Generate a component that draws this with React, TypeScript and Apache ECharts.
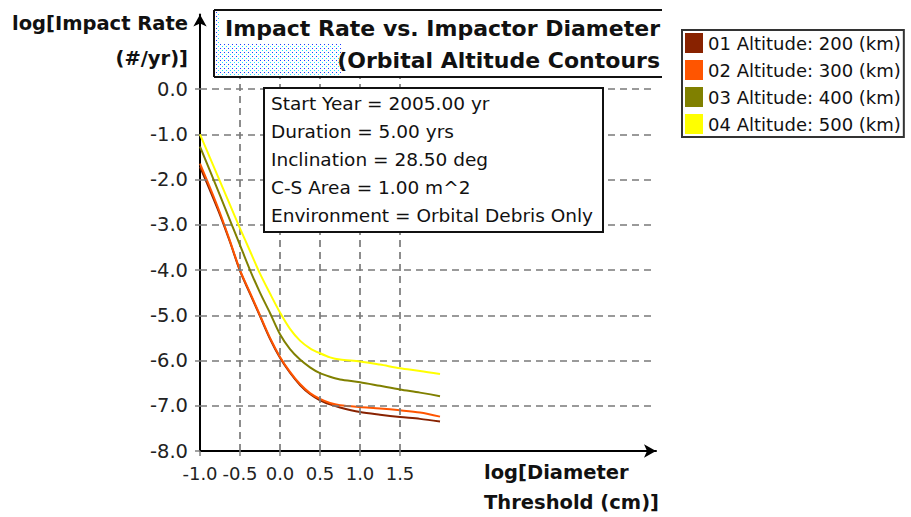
import React, { useEffect, useRef } from "react";
import * as echarts from "echarts";

// log[Diameter Threshold (cm)] sample positions
const xValues = [-1.0, -0.875, -0.75, -0.625, -0.5, -0.375, -0.25, -0.125, 0, 0.125, 0.25, 0.375, 0.5, 0.625, 0.75, 1.0, 1.25, 1.5, 1.75, 2.0];

// log[Impact Rate (#/yr)] per altitude
const alt200 = [-1.72, -2.24, -2.78, -3.38, -4.02, -4.52, -5.02, -5.52, -5.94, -6.27, -6.54, -6.74, -6.88, -6.97, -7.04, -7.14, -7.2, -7.25, -7.29, -7.35];
const alt300 = [-1.65, -2.18, -2.74, -3.36, -4.0, -4.5, -5.0, -5.5, -5.92, -6.25, -6.52, -6.72, -6.85, -6.94, -6.99, -7.03, -7.06, -7.1, -7.15, -7.24];
const alt400 = [-1.27, -1.81, -2.35, -2.9, -3.45, -4.0, -4.5, -4.95, -5.42, -5.75, -5.98, -6.15, -6.28, -6.36, -6.42, -6.48, -6.56, -6.64, -6.71, -6.79];
const alt500 = [-1.0, -1.52, -2.04, -2.56, -3.08, -3.58, -4.08, -4.52, -4.94, -5.3, -5.56, -5.73, -5.84, -5.93, -5.98, -6.02, -6.09, -6.17, -6.23, -6.3];

const seriesNames = ["01 Altitude: 200 (km)", "02 Altitude: 300 (km)", "03 Altitude: 400 (km)", "04 Altitude: 500 (km)"];
const seriesColors = ["#882200", "#ff5500", "#808000", "#ffff00"];

const xTicks = [-1.0, -0.5, 0.0, 0.5, 1.0, 1.5];
const yTicks = [-8, -7, -6, -5, -4, -3, -2, -1, 0];
const xGrid = [-0.5, 0.0, 0.5, 1.0, 1.5];
const yGrid = [-7, -6, -5, -4, -3, -2, -1, 0];

const titleLines = ["Impact Rate vs. Impactor Diameter", "(Orbital Altitude Contours"];
const yNameLines = ["log[Impact Rate", "(#/yr)]"];
const xNameLines = ["log[Diameter", "Threshold (cm)]"];
const infoLines = [
  "Start Year = 2005.00 yr",
  "Duration = 5.00 yrs",
  "Inclination = 28.50 deg",
  "C-S Area = 1.00 m^2",
  "Environment = Orbital Debris Only",
];

function makeDots(): string {
  const c = document.createElement("canvas");
  c.width = 4;
  c.height = 4;
  const ctx = c.getContext("2d");
  if (ctx) {
    ctx.fillStyle = "#ffffff";
    ctx.fillRect(0, 0, 4, 4);
    ctx.fillStyle = "#1f3cff";
    ctx.fillRect(0, 0, 1, 1);
    ctx.fillStyle = "#22e6ff";
    ctx.fillRect(2, 2, 1, 1);
  }
  return c.toDataURL();
}

export default function App() {
  const ref = useRef<HTMLDivElement>(null);
  useEffect(() => {
    if (!ref.current) return;
    const chart = echarts.init(ref.current, null, { renderer: "svg" });
    const font = "DejaVu Sans";
    const toPairs = (arr: number[]) => xValues.map((x, i) => [x, arr[i]]);
    const dataSets = [alt200, alt300, alt400, alt500];

    const graphics: any[] = [];
    // title box
    graphics.push({
      type: "rect",
      z: 100,
      shape: { x: 214, y: 10, width: 448, height: 67 },
      style: {
        fill: { image: makeDots(), repeat: "repeat", imageWidth: 4, imageHeight: 4 } as any,
      },
    });
    graphics.push({ type: "rect", z: 101, shape: { x: 220, y: 12, width: 442, height: 31 }, style: { fill: "#fff" } });
    graphics.push({ type: "rect", z: 101, shape: { x: 341, y: 43, width: 321, height: 32 }, style: { fill: "#fff" } });
    graphics.push({ type: "line", z: 102, shape: { x1: 214, y1: 10, x2: 662, y2: 10 }, style: { stroke: "#111", lineWidth: 2 } });
    graphics.push({ type: "line", z: 102, shape: { x1: 214, y1: 77, x2: 662, y2: 77 }, style: { stroke: "#111", lineWidth: 2 } });
    graphics.push({ type: "line", z: 102, shape: { x1: 214, y1: 10, x2: 214, y2: 77 }, style: { stroke: "#111", lineWidth: 2 } });
    graphics.push({
      type: "text", z: 103, x: 660, y: 28,
      style: { text: titleLines[0], font: `bold 22px "${font}"`, fill: "#111", align: "right", verticalAlign: "middle" },
    });
    graphics.push({
      type: "text", z: 103, x: 660, y: 60,
      style: { text: titleLines[1], font: `bold 22px "${font}"`, fill: "#111", align: "right", verticalAlign: "middle" },
    });
    // axis names
    graphics.push({
      type: "text", z: 103, x: 188, y: 23,
      style: { text: yNameLines[0], font: `bold 19.5px "${font}"`, fill: "#111", align: "right", verticalAlign: "middle" },
    });
    graphics.push({
      type: "text", z: 103, x: 188, y: 58,
      style: { text: yNameLines[1], font: `bold 19.5px "${font}"`, fill: "#111", align: "right", verticalAlign: "middle" },
    });
    graphics.push({
      type: "text", z: 103, x: 484, y: 472,
      style: { text: xNameLines[0], font: `bold 19.5px "${font}"`, fill: "#111", align: "left", verticalAlign: "middle" },
    });
    graphics.push({
      type: "text", z: 103, x: 484, y: 502,
      style: { text: xNameLines[1], font: `bold 19.5px "${font}"`, fill: "#111", align: "left", verticalAlign: "middle" },
    });
    // info box
    graphics.push({
      type: "rect", z: 100,
      shape: { x: 264, y: 88, width: 339, height: 144 },
      style: { fill: "#fff", stroke: "#111", lineWidth: 2 },
    });
    infoLines.forEach((t, i) => {
      graphics.push({
        type: "text", z: 103, x: 271, y: 103 + i * 28,
        style: { text: t, font: `18.5px "${font}"`, fill: "#111", align: "left", verticalAlign: "middle" },
      });
    });

    const option: any = {
      animation: false,
      backgroundColor: "#ffffff",
      grid: { left: 200, right: 255, top: 14.4, bottom: 66, containLabel: false },
      legend: {
        orient: "vertical",
        left: 682,
        top: 30,
        icon: "rect",
        itemWidth: 18,
        itemHeight: 20,
        itemGap: 7,
        padding: [3, 3, 3, 3],
        borderColor: "#333",
        borderWidth: 2,
        data: seriesNames,
        textStyle: { fontFamily: font, fontSize: 18, color: "#111" },
      },
      xAxis: {
        type: "value",
        min: -1,
        max: 4.7,
        axisLine: { show: true, onZero: false, symbol: ["none", "arrow"], symbolSize: [10, 12], lineStyle: { color: "#000", width: 2 } },
        axisTick: { show: true, customValues: xTicks, length: 5, lineStyle: { color: "#808080", width: 1.5 } },
        axisLabel: { customValues: xTicks, formatter: (v: number) => v.toFixed(1), fontFamily: font, fontSize: 18, color: "#222", margin: 13 },
        splitLine: { show: false },
      },
      yAxis: {
        type: "value",
        min: -8,
        max: 1.65,
        axisLine: { show: true, onZero: false, symbol: ["none", "arrow"], symbolSize: [10, 12], lineStyle: { color: "#000", width: 2 } },
        axisTick: { show: true, customValues: yTicks, length: 5, lineStyle: { color: "#808080", width: 1.5 } },
        axisLabel: { customValues: yTicks, formatter: (v: number) => v.toFixed(1), fontFamily: font, fontSize: 19.5, color: "#222", margin: 12 },
        splitLine: { show: false },
      },
      graphic: graphics,
      series: [
        {
          name: "grid",
          type: "line",
          data: [],
          z: 1,
          silent: true,
          markLine: {
            silent: true,
            symbol: ["none", "none"],
            label: { show: false },
            lineStyle: { type: [7, 5], color: "#7a7a7a", width: 1.7 },
            data: [...yGrid.map((v) => ({ yAxis: v })), ...xGrid.map((v) => ({ xAxis: v }))],
          },
        },
        ...dataSets.map((arr, i) => ({
          name: seriesNames[i],
          type: "line",
          data: toPairs(arr),
          z: 3 + i,
          showSymbol: false,
          smooth: 0.3,
          color: seriesColors[i],
          lineStyle: { color: seriesColors[i], width: 2 },
        })),
      ],
    };
    chart.setOption(option);
    return () => chart.dispose();
  }, []);
  return <div ref={ref} style={{ position: "fixed", left: 0, top: 0, width: 911, height: 517, background: "#fff" }} />;
}
